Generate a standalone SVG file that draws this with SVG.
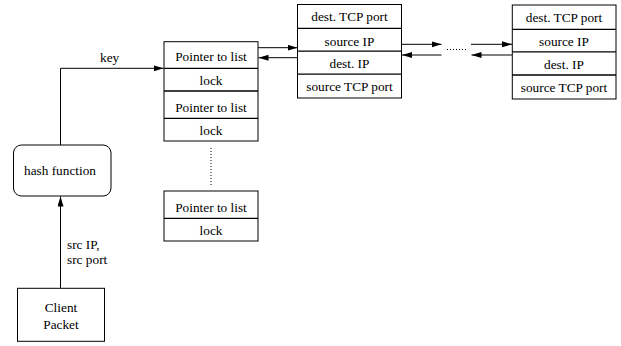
<svg xmlns="http://www.w3.org/2000/svg" width="621" height="346" viewBox="0 0 621 346">
<style>
.box{fill:#fff;stroke:#000;stroke-width:1}
.div{stroke:#000;stroke-width:1.3}
.t{font-family:'Liberation Serif','Tinos','DejaVu Serif','Times New Roman',Times,serif;font-size:13.3px;fill:#000;text-anchor:middle}
.tl{font-family:'Liberation Serif','Tinos','DejaVu Serif','Times New Roman',Times,serif;font-size:13.3px;fill:#000}
.c{fill:none;stroke:#000;stroke-width:1;marker-end:url(#ah)}
.dot{fill:none;stroke:#000;stroke-width:1;stroke-dasharray:1,2}
</style>
<defs>
<marker id="ah" markerUnits="userSpaceOnUse" markerWidth="11" markerHeight="7" refX="10" refY="3" orient="auto">
<path d="M0,0 L10,3 L0,6 z" fill="#000"/>
</marker>
</defs>
<rect width="621" height="346" fill="#fff"/>

<g id="connectors">
<polyline class="c" points="60.5,145 60.5,68.3 163.5,68.3"/>
<line class="c" x1="60.5" y1="288" x2="60.5" y2="196.5"/>
<line class="c" x1="258" y1="47.7" x2="297.5" y2="47.7"/>
<line class="c" x1="297.5" y1="57.7" x2="258.5" y2="57.7"/>
<line class="c" x1="401.5" y1="44.3" x2="441.5" y2="44.3"/>
<line class="c" x1="471" y1="44.3" x2="512" y2="44.3"/>
<line class="c" x1="512" y1="55" x2="471.5" y2="55"/>
<line class="c" x1="441.5" y1="55" x2="402" y2="55"/>
<line class="dot" x1="447" y1="49.5" x2="467" y2="49.5"/>
<line class="dot" x1="211" y1="148" x2="211" y2="187"/>
<text class="tl" x="100" y="61.7">key</text>
<text class="tl" x="67" y="249">src IP,</text>
<text class="tl" x="67" y="264.3">src port</text>
</g>

<g id="hash-function">
<rect class="box" x="13.5" y="145" width="97.5" height="51" rx="8" ry="8"/>
<text class="t" x="60" y="175">hash function</text>
</g>

<g id="client-packet">
<rect class="box" x="17.5" y="288.3" width="87" height="53"/>
<text class="t" x="61" y="312">Client</text>
<text class="t" x="61" y="329">Packet</text>
</g>

<g id="hash-table">
<rect class="box" x="164" y="41.7" width="94" height="99.3"/>
<line class="div" x1="164" y1="68.3" x2="258" y2="68.3"/>
<line class="div" x1="164" y1="91" x2="258" y2="91"/>
<line class="div" x1="164" y1="118.3" x2="258" y2="118.3"/>
<text class="t" x="211" y="61">Pointer to list</text>
<text class="t" x="211" y="85">lock</text>
<text class="t" x="211" y="112">Pointer to list</text>
<text class="t" x="211" y="134.5">lock</text>
</g>

<g id="hash-table-last">
<rect class="box" x="164" y="191" width="94" height="50"/>
<line class="div" x1="164" y1="218.3" x2="258" y2="218.3"/>
<text class="t" x="211" y="212">Pointer to list</text>
<text class="t" x="211" y="234.5">lock</text>
</g>

<g id="list-node-1">
<rect class="box" x="297.5" y="4.5" width="104" height="93.5"/>
<line class="div" x1="297.5" y1="28.3" x2="401.5" y2="28.3"/>
<line class="div" x1="297.5" y1="51.2" x2="401.5" y2="51.2"/>
<line class="div" x1="297.5" y1="74.2" x2="401.5" y2="74.2"/>
<text class="t" x="349.5" y="21">dest. TCP port</text>
<text class="t" x="349.5" y="45.5">source IP</text>
<text class="t" x="349.5" y="67.5">dest. IP</text>
<text class="t" x="349.5" y="91">source TCP port</text>
</g>

<g id="list-node-2">
<rect class="box" x="512.3" y="5" width="103.7" height="94"/>
<line class="div" x1="512.3" y1="29.3" x2="616" y2="29.3"/>
<line class="div" x1="512.3" y1="51.8" x2="616" y2="51.8"/>
<line class="div" x1="512.3" y1="75" x2="616" y2="75"/>
<text class="t" x="564" y="22">dest. TCP port</text>
<text class="t" x="564" y="46">source IP</text>
<text class="t" x="564" y="68.5">dest. IP</text>
<text class="t" x="564" y="92">source TCP port</text>
</g>
</svg>
